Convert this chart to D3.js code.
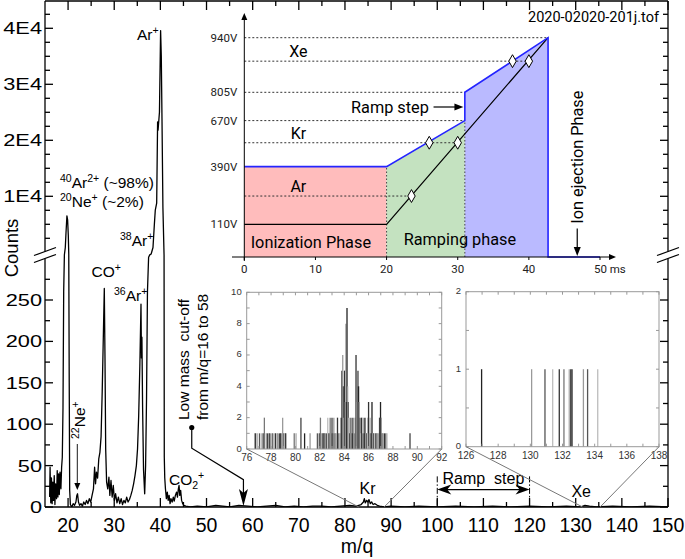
<!DOCTYPE html>
<html><head><meta charset="utf-8">
<script src="https://cdn.jsdelivr.net/npm/d3@7"></script>
<style>body{margin:0;background:#fff}svg{display:block}text{white-space:pre}</style>
</head><body><svg id="c" width="685" height="559"></svg>
<script>
// ---------------- DATA ----------------
const specMz = [16.0,16.1,16.25,16.4,16.55,16.7,16.85,17.0,17.15,17.3,17.5,17.65,17.8,17.95,18.1,18.25,18.45,18.6,18.75,18.9,19.05,19.2,19.4,19.55,19.75,19.9,20.05,20.15,20.25,20.35,20.5,20.8,21.1,21.4,21.7,21.9,22.05,22.25,22.5,22.8,23.1,23.4,23.7,24.0,24.3,24.6,24.9,25.2,25.5,25.75,25.95,26.15,26.4,26.65,26.9,27.15,27.4,27.6,27.85,28.0,28.15,28.35,28.6,28.85,29.05,29.3,29.55,29.8,30.05,30.3,30.6,30.9,31.2,31.5,31.8,32.1,32.4,32.7,33.0,33.3,33.6,33.9,34.2,34.5,34.8,35.05,35.3,35.55,35.8,35.9,36.0,36.15,36.35,36.6,36.8,37.0,37.2,37.45,37.7,38.0,38.4,38.7,38.9,39.2,39.4,39.5,39.8,40.05,40.2,40.35,40.55,40.8,40.85,40.95,41.1,41.3,41.5,41.7,41.9,42.1,42.3,42.55,42.8,43.0,43.25,43.5,43.7,43.9,44.05,44.2,44.4,44.6,44.85,45.1,45.5,46.5,48,50,52,53.5,55,57,59,61,63,65,67,69,71,73,75,77,79,81,82.5,83.5,84.0,84.2,84.4,84.7,85.0,85.2,85.5,85.8,86.1,86.5,87.0,87.5,88.5,90,93,96,100,104,108,112,116,120,124,128,131,132,133,134.5,138,142,146,150];
const specCounts = [12,48,5,35,4,30,8,38,3,28,10,44,12,40,15,42,22,48,60,120,260,700,1500,3500,6500,5800,3000,800,150,20,3,0,4,2,6,14,16,6,2,4,1,6,3,8,4,10,6,14,22,48,28,42,35,58,66,85,140,195,264,180,70,30,22,36,14,32,12,26,8,16,5,12,4,10,3,8,5,12,6,9,14,20,28,38,50,70,110,170,245,180,205,120,45,16,50,130,260,450,700,800,1500,5000,7550,8800,23300,21800,25000,39600,35000,23900,8000,700,60,35,22,10,18,8,14,4,10,6,12,7,14,18,12,22,26,14,20,8,4,2,1,0,1,0,2,1,0,2,1,0,1,2,0,1,0,1,1,0,1,2,1,3,6,10,5,8,6,9,4,6,3,4,2,1,0,1,0,1,0,1,0,1,0,1,0,1,0,2,1,0,1,0,1,0];

const xTickLabels = [20,30,40,50,60,70,80,90,100,110,120,130,140,150];
const lowTickLabels = [0,50,100,150,200,250];
const highTickValues = [10000,20000,30000,40000];
const highTickLabels = ["1E4","2E4","3E4","4E4"];

// Kr zoom histogram
const krMz = [76.7,76.85,77.05,77.2,77.35,77.45,77.6,77.7,77.85,77.95,78.1,78.2,78.35,78.5,78.6,78.7,78.8,78.95,79.05,79.15,79.2,79.9,80.05,80.45,80.75,81.2,81.8,81.9,82.0,82.05,82.15,82.25,82.35,82.45,82.55,82.65,82.75,82.85,82.95,83.0,83.1,83.15,83.25,83.35,83.45,83.55,83.65,83.75,83.82,83.88,83.93,83.98,84.03,84.08,84.13,84.18,84.23,84.28,84.33,84.38,84.45,84.5,84.58,84.65,84.72,84.78,84.85,84.9,84.97,85.02,85.08,85.13,85.18,85.23,85.3,85.37,85.43,85.5,85.57,85.63,85.7,85.78,85.85,85.92,86.0,86.05,86.12,86.2,86.28,86.35,86.42,86.5,86.6,86.7,86.8,86.9,86.98,87.05,87.12,87.2,87.3,87.4,87.5,89.4];
const krCounts = [1,1,1,1,1,2,1,1,1,1,1,1,1,1,1,1,1,2,1,1,1,1,1,2,1,1,1,1,1,2,1,1,1,1,1,2,1,2,1,2,1,2,1,1,2,1,1,2,5,6,4,2,5,3,8,3,9,4,3,2,1,2,1,2,1,2,1,2,6,4,3,5,4,3,2,1,2,1,2,1,2,1,1,2,3,1,2,1,3,1,1,1,1,1,1,2,3,2,1,1,1,1,1,1];
// Xe zoom histogram
const xeMz = [126.97,130.08,130.91,131.39,131.8,132.09,132.42,132.51,132.59,133.3,133.56,134.19];
const xeCounts = [1,1,1,1,1,1,1,1,1,1,1,1];

// Inset: voltage program (schematic heights)
const voltLabels = ["110V","390V","670V","805V","940V"];
const voltLevels = [14.9,41.2,62.2,75.1,100];
const envT = [0,20,31,31,42.7,42.7,50];
const envV = [41.2,41.2,62.2,75.1,100,0,0];
const rampT = [0,20,42.7];
const rampV = [14.9,14.9,100];
const elemNames = ["Ar","Kr","Xe"];
const elemLevels = [27.8,52.1,89.3];
const elemDashEnd = [23.5,30,40];
const markT = [23.5,26,30,37.7,40];
const markV = [27.8,52.1,52.1,89.3,89.3];
const msTicks = [0,10,20,30,40,50];

// ---------------- DRAW ----------------
const svg = d3.select("#c");
const FONT = "'Liberation Sans', Arial, sans-serif";
const RFONT = "Roboto, 'Open Sans', sans-serif";
const x = d3.scaleLinear().domain([15,150]).range([45,668]);
const y = d3.scaleLinear().domain([0,300,2500,45000]).range([507,258.6,238.3,0.3]);
const L = 45, R = 668, T = 1, B = 507, G1 = 251.5, G2 = 258.5;

function rich(sel, parts, size){
  let shift = 0;
  parts.forEach(([t,k])=>{
    const target = k==="sup" ? -size*0.4 : k==="sub" ? size*0.28 : 0;
    sel.append("tspan").attr("dy", target-shift).attr("font-size", k ? size*0.68 : size).text(t);
    shift = target;
  });
}

// ---- top inset (voltage program) ----
const ix = d3.scaleLinear().domain([0,50]).range([244.3,600]);
const iy = d3.scaleLinear().domain([0,100]).range([257,37.7]);
const ins = svg.append("g");
const area = d3.area().x(d=>ix(d[0])).y0(iy(0)).y1(d=>iy(d[1]));
ins.append("path").datum([[envT[0],envV[0]],[envT[1],envV[1]]]).attr("d",area).attr("fill","#ffbcbc");
ins.append("path").datum([[envT[1],envV[1]],[envT[2],envV[2]]]).attr("d",area).attr("fill","#c4e2c0");
ins.append("path").datum([[envT[3],envV[3]],[envT[4],envV[4]]]).attr("d",area).attr("fill","#babaff");
[[envT[1],envV[1]],[envT[2],envV[2]]].forEach(p=>{
  ins.append("line").attr("x1",ix(p[0])).attr("x2",ix(p[0])).attr("y1",iy(0)).attr("y2",iy(p[1]))
    .attr("stroke","#444").attr("stroke-dasharray","1.5,2").attr("stroke-width",1);
});
const dashEnds = [null, null, 31, 31, 42.7];
voltLevels.forEach((v,i)=>{
  if(dashEnds[i]!==null){
    ins.append("line").attr("x1",ix(0)).attr("x2",ix(dashEnds[i])).attr("y1",iy(v)).attr("y2",iy(v))
      .attr("stroke","#333").attr("stroke-dasharray","2,2").attr("stroke-width",1);
  }
});
elemLevels.forEach((v,i)=>{
  ins.append("line").attr("x1",ix(0)).attr("x2",ix(elemDashEnd[i])).attr("y1",iy(v)).attr("y2",iy(v))
    .attr("stroke","#333").attr("stroke-dasharray","2,2").attr("stroke-width",1);
  ins.append("text").attr("x",ix(7.6)).attr("y",iy(v)-4).attr("text-anchor","middle")
    .attr("font-family",RFONT).attr("font-size",16).text(elemNames[i]);
});
const iline = d3.line().x(d=>ix(d[0])).y(d=>iy(d[1]));
ins.append("path").attr("d",iline(rampT.map((t,i)=>[t,rampV[i]]))).attr("fill","none").attr("stroke","#000").attr("stroke-width",1.2);
ins.append("path").attr("d",iline(envT.map((t,i)=>[t,envV[i]]))).attr("fill","none").attr("stroke","#2424ff").attr("stroke-width",1.6);
markT.forEach((t,i)=>{
  ins.append("path").attr("d",d3.symbol(d3.symbolDiamond,48)()).attr("transform",`translate(${ix(t)},${iy(markV[i])})`)
    .attr("fill","#fff").attr("stroke","#000").attr("stroke-width",1);
});
ins.append("line").attr("x1",232).attr("x2",ix(50)+12).attr("y1",iy(0)).attr("y2",iy(0)).attr("stroke","#000").attr("stroke-width",1);
ins.append("path").attr("d",`M${ix(50)+16},${iy(0)} l-7,-3 v6 z`).attr("fill","#000");
ins.append("line").attr("x1",ix(0)).attr("x2",ix(0)).attr("y1",iy(0)+4).attr("y2",18).attr("stroke","#000").attr("stroke-width",1);
ins.append("path").attr("d",`M${ix(0)},${13} l-3,7 h6 z`).attr("fill","#000");
msTicks.forEach((t,i)=>{
  ins.append("line").attr("x1",ix(t)).attr("x2",ix(t)).attr("y1",iy(0)).attr("y2",iy(0)+3).attr("stroke","#000");
  const last = i===msTicks.length-1;
  ins.append("text").attr("x", last ? ix(t)-6 : ix(t)).attr("y",iy(0)+16)
    .attr("text-anchor", last ? "start":"middle").attr("font-family",RFONT).attr("font-size",11.5).attr("fill","#222")
    .text(last ? t+" ms" : t);
});
voltLevels.forEach((v,i)=>{
  ins.append("text").attr("x",ix(0)-7).attr("y",iy(v)+4).attr("text-anchor","end")
    .attr("font-family",RFONT).attr("font-size",11.5).attr("fill","#222").text(voltLabels[i]);
});
ins.append("text").attr("x",ix(0.9)).attr("y",iy(0)-9).attr("font-family",RFONT).attr("font-size",16.3).text("Ionization Phase");
ins.append("text").attr("x",ix(22.4)).attr("y",iy(0)-12).attr("font-family",RFONT).attr("font-size",16.3).text("Ramping phase");
ins.append("text").attr("x",ix(15.0)).attr("y",iy(68.4)+6).attr("font-family",RFONT).attr("font-size",16.3).text("Ramp step");
ins.append("line").attr("x1",ix(26.6)).attr("x2",ix(30.2)).attr("y1",iy(68.4)).attr("y2",iy(68.4)).attr("stroke","#000").attr("stroke-width",1.2);
ins.append("path").attr("d",`M${ix(30.8)},${iy(68.4)} l-9,-3.5 v7 z`).attr("fill","#000");
ins.append("text").attr("transform",`translate(${ix(46.8)+6},${iy(45.5)}) rotate(-90)`).attr("text-anchor","middle")
  .attr("font-family",RFONT).attr("font-size",16.3).text("Ion ejection Phase");
ins.append("line").attr("x1",ix(46.8)).attr("x2",ix(46.8)).attr("y1",iy(13)).attr("y2",iy(0)-8).attr("stroke","#000").attr("stroke-width",1.2);
ins.append("path").attr("d",`M${ix(46.8)},${iy(0)-1} l-3.5,-9 h7 z`).attr("fill","#000");
svg.append("text").attr("x",659).attr("y",22).attr("text-anchor","end").attr("font-family",RFONT).attr("font-size",14.5).text("2020-02020-201j.tof");

// ---- main frame ----
const fr = svg.append("g").attr("stroke","#000").attr("stroke-width",1.3).attr("fill","none");
fr.append("line").attr("x1",L).attr("x2",R).attr("y1",T).attr("y2",T);
fr.append("line").attr("x1",L).attr("x2",R).attr("y1",B).attr("y2",B);
[L,R].forEach(xx=>{
  fr.append("line").attr("x1",xx).attr("x2",xx).attr("y1",T).attr("y2",G1);
  fr.append("line").attr("x1",xx).attr("x2",xx).attr("y1",G2).attr("y2",B);
  fr.append("line").attr("x1",xx-11).attr("x2",xx+11).attr("y1",G1+4).attr("y2",G1-4);
  fr.append("line").attr("x1",xx-11).attr("x2",xx+11).attr("y1",G2+4).attr("y2",G2-4);
});
d3.range(20,151,5).forEach(v=>{
  const len = v%10===0 ? 9 : 5;
  fr.append("line").attr("x1",x(v)).attr("x2",x(v)).attr("y1",B).attr("y2",B-len);
  fr.append("line").attr("x1",x(v)).attr("x2",x(v)).attr("y1",T).attr("y2",T+len);
});
d3.range(0,276,25).forEach(v=>{
  const len = v%50===0 ? 8 : 5;
  fr.append("line").attr("x1",L).attr("x2",L+len).attr("y1",y(v)).attr("y2",y(v));
  fr.append("line").attr("x1",R).attr("x2",R-len).attr("y1",y(v)).attr("y2",y(v));
});
d3.range(2500,45000,2500).forEach(v=>{
  const len = v%10000===0 ? 8 : 5;
  fr.append("line").attr("x1",L).attr("x2",L+len).attr("y1",y(v)).attr("y2",y(v));
  fr.append("line").attr("x1",R).attr("x2",R-len).attr("y1",y(v)).attr("y2",y(v));
});
xTickLabels.forEach(v=>{
  svg.append("text").attr("x",x(v)).attr("y",532).attr("text-anchor","middle").attr("font-family",FONT).attr("font-size",19.5).text(v);
});
function ylab(val,txt){
  svg.append("text").attr("transform",`translate(42,${y(val)+6}) scale(1.32,1)`).attr("text-anchor","end")
    .attr("font-family",FONT).attr("font-size",16.5).text(txt);
}
lowTickLabels.forEach(v=>ylab(v,v));
highTickValues.forEach((v,i)=>ylab(v,highTickLabels[i]));
svg.append("text").attr("x",357).attr("y",553).attr("text-anchor","middle").attr("font-family",FONT).attr("font-size",19.5).text("m/q");
svg.append("text").attr("transform","translate(18,248) rotate(-90)").attr("text-anchor","middle").attr("font-family",FONT).attr("font-size",18.5).text("Counts");

// ---- spectrum ----
svg.append("clipPath").attr("id","clp").append("rect").attr("x",L).attr("y",T).attr("width",R-L).attr("height",B-T);
const spec = specMz.map((m,i)=>[m,specCounts[i]]);
svg.append("path").attr("clip-path","url(#clp)").attr("d",d3.line().x(d=>x(d[0])).y(d=>y(d[1]))(spec))
  .attr("fill","none").attr("stroke","#000").attr("stroke-width",1.3).attr("stroke-linejoin","round");

// ---- annotations ----
const A = svg.append("g").attr("font-family",FONT);
rich(A.append("text").attr("x",137).attr("y",40), [["Ar",""],["+","sup"]], 15.5);
rich(A.append("text").attr("x",60).attr("y",188), [["40","sup"],["Ar",""],["2+","sup"],[" (~98%)",""]], 15.5);
rich(A.append("text").attr("x",60).attr("y",207), [["20","sup"],["Ne",""],["+","sup"],[" (~2%)",""]], 15.5);
rich(A.append("text").attr("x",120).attr("y",246), [["38","sup"],["Ar",""],["+","sup"]], 15.5);
rich(A.append("text").attr("x",91.5).attr("y",277), [["CO",""],["+","sup"]], 15.5);
rich(A.append("text").attr("x",114).attr("y",301), [["36","sup"],["Ar",""],["+","sup"]], 15.5);
rich(A.append("text").attr("x",169).attr("y",485), [["CO",""],["2","sub"],["+","sup"]], 15.5);
rich(A.append("text").attr("transform",`translate(85,439) rotate(-90)`), [["22","sup"],["Ne",""],["+","sup"]], 15.5);
A.append("line").attr("x1",x(22)).attr("x2",x(22)).attr("y1",444).attr("y2",484).attr("stroke","#000").attr("stroke-width",0.9);
A.append("path").attr("d",`M${x(22)},${490} l-3,-7 h6 z`).attr("fill","#000");
A.append("text").attr("transform","translate(189,420) rotate(-90)").attr("font-size",15.5).text("Low mass  cut-off");
A.append("text").attr("transform","translate(207.5,420) rotate(-90)").attr("font-size",15.5).text("from m/q=16 to 58");
A.append("circle").attr("cx",x(46.8)).attr("cy",y(96)).attr("r",2.6).attr("fill","#000");
A.append("path").attr("d",`M${x(46.8)},${y(96)} L${x(46.8)},${y(71)} L${x(58)},${y(33)} L${x(58)},${y(12)}`)
  .attr("fill","none").attr("stroke","#000").attr("stroke-width",1.2);
A.append("path").attr("d",`M${x(58)},${y(0)-1} l-4.5,-17 l4.5,4 l4.5,-4 z`).attr("fill","#000");
A.append("text").attr("x",x(84.9)).attr("y",494).attr("text-anchor","middle").attr("font-size",16).text("Kr");
A.append("text").attr("x",x(131.2)).attr("y",497).attr("text-anchor","middle").attr("font-size",16).text("Xe");
A.append("text").attr("x",x(110)).attr("y",484).attr("text-anchor","middle").attr("font-size",16).text("Ramp  step");
[100,120].forEach(v=>{
  A.append("line").attr("x1",x(v)).attr("x2",x(v)).attr("y1",y(37)).attr("y2",y(0)).attr("stroke","#000").attr("stroke-width",1).attr("stroke-dasharray","6,2,1.5,2");
});
A.append("line").attr("x1",x(101)).attr("x2",x(119)).attr("y1",y(21)).attr("y2",y(21)).attr("stroke","#000").attr("stroke-width",1.4);
A.append("path").attr("d",`M${x(100)},${y(21)} l14,-5 l-4,5 l4,5 z`).attr("fill","#000");
A.append("path").attr("d",`M${x(120)},${y(21)} l-14,-5 l4,5 l-4,5 z`).attr("fill","#000");

// ---- zoom insets ----
function zoomInset(mz, cnt, xd, yd, xr, yr, xLabStep, yLabStep, yMinor, from, toM){
  const sx = d3.scaleLinear().domain(xd).range(xr);
  const sy = d3.scaleLinear().domain(yd).range(yr);
  const g = svg.append("g");
  const greys = ["#222","#9a9a9a","#555","#bdbdbd","#333","#777","#aaa","#444"];
  mz.forEach((m,i)=>{
    g.append("line").attr("x1",sx(m)).attr("x2",sx(m)).attr("y1",sy(0)).attr("y2",sy(cnt[i]))
      .attr("stroke",greys[i%greys.length]).attr("stroke-width",1.3);
  });
  g.append("rect").attr("x",xr[0]).attr("y",yr[1]).attr("width",xr[1]-xr[0]).attr("height",yr[0]-yr[1])
    .attr("fill","none").attr("stroke","#999").attr("stroke-width",1);
  d3.range(xd[0],xd[1]+0.001,1).forEach(v=>{
    g.append("line").attr("x1",sx(v)).attr("x2",sx(v)).attr("y1",yr[0]).attr("y2",yr[0]-3).attr("stroke","#999");
    g.append("line").attr("x1",sx(v)).attr("x2",sx(v)).attr("y1",yr[1]).attr("y2",yr[1]+3).attr("stroke","#999");
  });
  d3.range(yd[0],yd[1]+0.001,yMinor).forEach(v=>{
    g.append("line").attr("x1",xr[0]).attr("x2",xr[0]+3).attr("y1",sy(v)).attr("y2",sy(v)).attr("stroke","#999");
    g.append("line").attr("x1",xr[1]).attr("x2",xr[1]-3).attr("y1",sy(v)).attr("y2",sy(v)).attr("stroke","#999");
  });
  d3.range(xd[0],xd[1]+0.001,xLabStep).forEach(v=>{
    g.append("text").attr("x",sx(v)).attr("y",yr[0]+12).attr("text-anchor","middle").attr("font-family",FONT).attr("font-size",10).attr("fill","#333").text(v);
  });
  d3.range(yd[0],yd[1]+0.001,yLabStep).forEach(v=>{
    g.append("text").attr("x",xr[0]-5).attr("y",sy(v)+2.5).attr("text-anchor","end").attr("font-family",FONT).attr("font-size",9.5).attr("fill","#333").text(v);
  });
  g.append("line").attr("x1",xr[0]).attr("y1",yr[0]).attr("x2",x(from)).attr("y2",y(0)).attr("stroke","#777").attr("stroke-width",1);
  g.append("line").attr("x1",xr[1]).attr("y1",yr[0]).attr("x2",x(toM)).attr("y2",y(0)).attr("stroke","#777").attr("stroke-width",1);
}
zoomInset(krMz, krCounts, [76,92], [0,10], [246.7,441.7], [449,292.3], 2, 2, 1, 83, 88.5);
zoomInset(xeMz, xeCounts, [126,138], [0,2], [466,659], [446.7,291.7], 2, 1, 0.5, 131.5, 135.3);
</script></body></html>
